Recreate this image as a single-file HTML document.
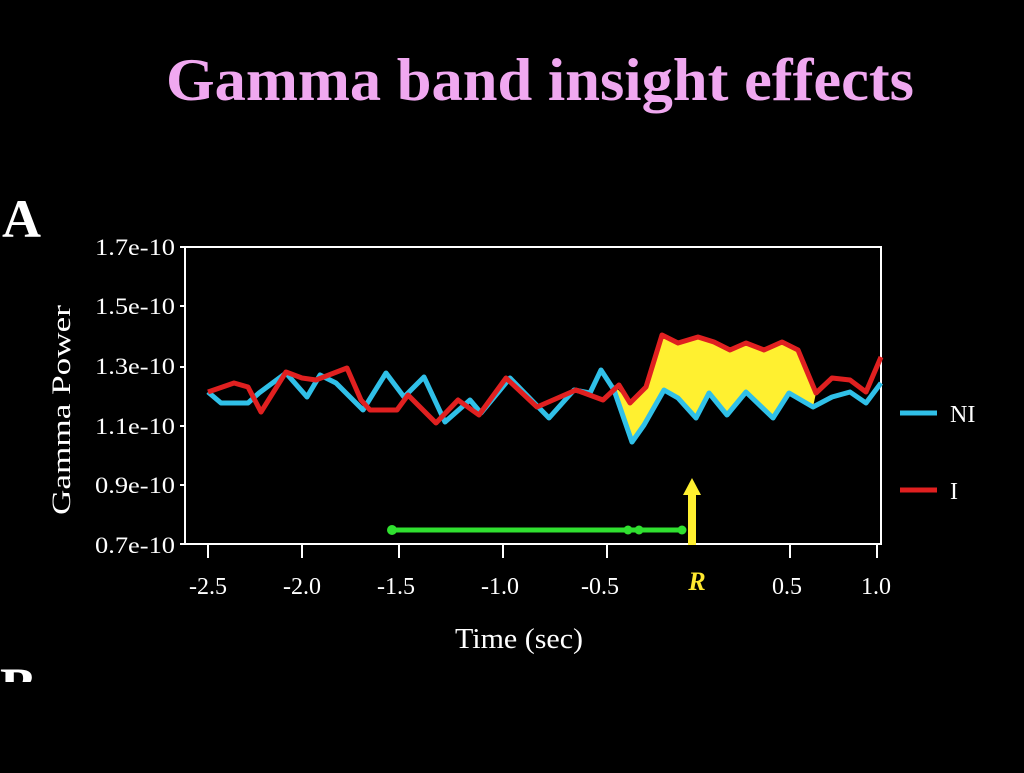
<!DOCTYPE html>
<html><head><style>
body{margin:0;background:#000;width:1024px;height:768px;overflow:hidden}
svg text{font-family:"Liberation Serif",serif}
</style></head><body>
<svg width="1024" height="768" viewBox="0 0 1024 768">
<rect width="1024" height="768" fill="#000"/>
<text x="540" y="100" text-anchor="middle" font-size="60" font-weight="bold" fill="#f0a8f0" textLength="748" lengthAdjust="spacingAndGlyphs">Gamma band insight effects</text>
<text x="2" y="237" font-size="54" font-weight="bold" fill="#fff">A</text>
<text x="0" y="705" font-size="54" font-weight="bold" fill="#fff">B</text>
<rect x="0" y="682" width="1024" height="86" fill="#000"/>
<rect x="185" y="247" width="696" height="297" fill="none" stroke="#fff" stroke-width="2"/>
<g stroke="#fff" stroke-width="2">
<line x1="180" y1="306" x2="185" y2="306"/><line x1="180" y1="367" x2="185" y2="367"/><line x1="180" y1="426" x2="185" y2="426"/><line x1="180" y1="485" x2="185" y2="485"/><line x1="180" y1="247" x2="185" y2="247"/><line x1="180" y1="544" x2="185" y2="544"/>
<line x1="208" y1="544" x2="208" y2="558"/><line x1="302" y1="544" x2="302" y2="558"/><line x1="399" y1="544" x2="399" y2="558"/><line x1="503" y1="544" x2="503" y2="558"/><line x1="607" y1="544" x2="607" y2="558"/><line x1="790" y1="544" x2="790" y2="558"/><line x1="877" y1="544" x2="877" y2="558"/>
</g>
<g fill="#fff" font-size="23">
<text x="95" y="255" textLength="80" lengthAdjust="spacingAndGlyphs">1.7e-10</text><text x="95" y="314" textLength="80" lengthAdjust="spacingAndGlyphs">1.5e-10</text><text x="95" y="374" textLength="80" lengthAdjust="spacingAndGlyphs">1.3e-10</text><text x="95" y="434" textLength="80" lengthAdjust="spacingAndGlyphs">1.1e-10</text><text x="95" y="493" textLength="80" lengthAdjust="spacingAndGlyphs">0.9e-10</text><text x="95" y="553" textLength="80" lengthAdjust="spacingAndGlyphs">0.7e-10</text>
</g>
<g fill="#fff" font-size="24" text-anchor="middle">
<text x="208" y="594">-2.5</text><text x="302" y="594">-2.0</text><text x="396" y="594">-1.5</text><text x="500" y="594">-1.0</text><text x="600" y="594">-0.5</text><text x="787" y="594">0.5</text><text x="876" y="594">1.0</text>
</g>
<text x="697" y="590" text-anchor="middle" font-size="26" font-weight="bold" font-style="italic" fill="#ffe830">R</text>
<text x="455" y="648" font-size="28" fill="#fff" textLength="128" lengthAdjust="spacingAndGlyphs">Time (sec)</text>
<text transform="translate(70,410) rotate(-90)" text-anchor="middle" font-size="26" fill="#fff" textLength="210" lengthAdjust="spacingAndGlyphs">Gamma Power</text>
<polygon fill="#fff030" points="614,385 630,403 646,387 662,335 678,343 698,337 714,342 730,350 746,343 764,350 782,342 798,350 816,393 813,407 789,393 773,418 746,392 727,415 709,393 696,418 678,398 664,390 644,425 632,442"/>
<polyline fill="none" stroke="#30c0e8" stroke-width="5" stroke-linejoin="round" points="208,392 221,403 248,403 259,393 286,373 307,397 320,375 336,383 363,410 386,373 404,397 424,377 445,422 470,400 481,413 510,378 549,418 574,390 590,393 601,370 614,390 632,442 644,425 664,390 678,398 696,418 709,393 727,415 746,392 773,418 789,393 813,407 832,397 850,392 866,403 881,383"/>
<polyline fill="none" stroke="#e02020" stroke-width="5" stroke-linejoin="round" points="208,392 234,383 248,387 261,412 286,372 302,378 316,380 334,373 347,368 361,400 370,410 397,410 408,395 436,423 458,400 479,415 506,378 537,407 576,390 603,400 619,385 630,403 646,387 662,335 678,343 698,337 714,342 730,350 746,343 764,350 782,342 798,350 816,393 832,378 850,380 866,392 881,357"/>
<line x1="391" y1="530" x2="684" y2="530" stroke="#30e030" stroke-width="5"/>
<g fill="#30e030"><circle cx="392" cy="530" r="5"/><circle cx="628" cy="530" r="4.5"/><circle cx="639" cy="530" r="4.5"/><circle cx="682" cy="530" r="4.5"/></g>
<rect x="688" y="493" width="8" height="52" fill="#fff030"/>
<polygon points="683,495 701,495 692,478" fill="#fff030"/>
<line x1="900" y1="413" x2="937" y2="413" stroke="#30c0e8" stroke-width="5"/>
<text x="950" y="422" font-size="24" fill="#fff">NI</text>
<line x1="900" y1="490" x2="937" y2="490" stroke="#e02020" stroke-width="5"/>
<text x="950" y="499" font-size="24" fill="#fff">I</text>
</svg>
</body></html>
